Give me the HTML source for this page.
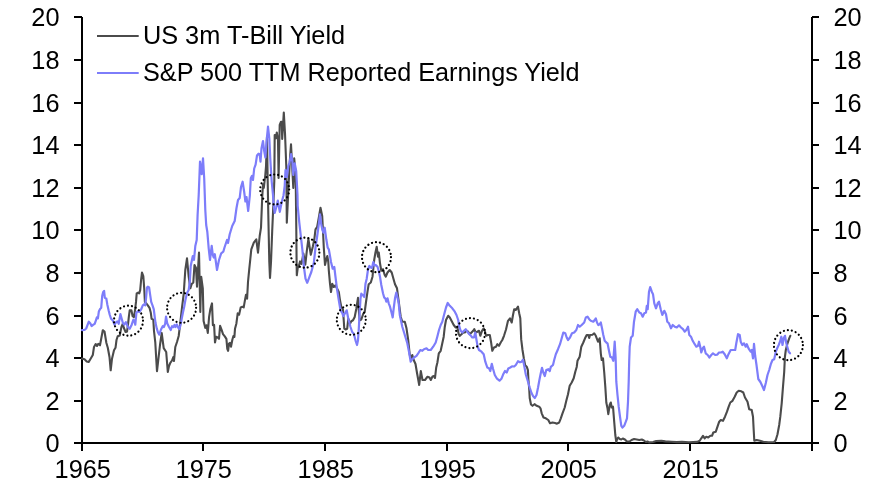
<!DOCTYPE html>
<html lang="en"><head><meta charset="utf-8"><title>US 3m T-Bill Yield vs S&amp;P 500 Earnings Yield</title>
<style>
html,body{margin:0;padding:0;background:#fff;}
body{width:877px;height:486px;overflow:hidden;}
svg{display:block;}
text{font-family:"Liberation Sans",Arial,sans-serif;font-size:25.33px;fill:#000;}
</style></head><body>
<svg width="877" height="486" viewBox="0 0 877 486">
<rect width="877" height="486" fill="#fff"/>

<path stroke="#000" stroke-width="2" fill="none" d="M82,17 V443 M812,17 V443 M74,443 H819"/>
<path stroke="#000" stroke-width="2" fill="none" d="M74,401 H82 M812,401 H819 M74,358 H82 M812,358 H819 M74,316 H82 M812,316 H819 M74,273 H82 M812,273 H819 M74,230 H82 M812,230 H819 M74,188 H82 M812,188 H819 M74,145 H82 M812,145 H819 M74,103 H82 M812,103 H819 M74,60 H82 M812,60 H819 M74,17 H82 M812,17 H819 "/>
<path stroke="#000" stroke-width="2" fill="none" d="M82,443 V451 M203,443 V451 M325,443 V451 M447,443 V451 M568,443 V451 M690,443 V451 M812,443 V451 "/>
<text x="59.5" y="451.7" text-anchor="end">0</text>
<text x="833.4" y="451.7">0</text>
<text x="59.5" y="409.7" text-anchor="end">2</text>
<text x="833.4" y="409.7">2</text>
<text x="59.5" y="366.7" text-anchor="end">4</text>
<text x="833.4" y="366.7">4</text>
<text x="59.5" y="324.7" text-anchor="end">6</text>
<text x="833.4" y="324.7">6</text>
<text x="59.5" y="281.7" text-anchor="end">8</text>
<text x="833.4" y="281.7">8</text>
<text x="59.5" y="238.7" text-anchor="end">10</text>
<text x="833.4" y="238.7">10</text>
<text x="59.5" y="196.7" text-anchor="end">12</text>
<text x="833.4" y="196.7">12</text>
<text x="59.5" y="153.7" text-anchor="end">14</text>
<text x="833.4" y="153.7">14</text>
<text x="59.5" y="111.7" text-anchor="end">16</text>
<text x="833.4" y="111.7">16</text>
<text x="59.5" y="68.7" text-anchor="end">18</text>
<text x="833.4" y="68.7">18</text>
<text x="59.5" y="25.7" text-anchor="end">20</text>
<text x="833.4" y="25.7">20</text>
<text x="82.8" y="477.7" text-anchor="middle">1965</text>
<text x="203.8" y="477.7" text-anchor="middle">1975</text>
<text x="325.8" y="477.7" text-anchor="middle">1985</text>
<text x="447.8" y="477.7" text-anchor="middle">1995</text>
<text x="568.8" y="477.7" text-anchor="middle">2005</text>
<text x="690.8" y="477.7" text-anchor="middle">2015</text>
<polyline fill="none" stroke="#4b4b4b" stroke-width="2.1" stroke-linejoin="round" stroke-linecap="round" points="82.0,358.6 84.5,359.3 86.7,361.5 88.7,362.0 91.2,357.8 92.8,355.0 94.0,347.0 95.7,344.0 97.0,346.0 98.3,343.8 100.0,345.3 102.8,330.2 104.5,331.5 106.4,343.0 107.8,347.8 109.5,357.0 110.7,370.3 112.0,358.7 114.0,350.3 115.5,347.8 116.5,340.0 117.7,336.2 119.8,335.4 121.4,327.1 122.7,323.8 123.9,328.0 125.6,332.0 127.0,331.7 128.0,324.7 128.8,317.1 129.7,310.3 131.4,310.3 132.6,316.2 133.9,317.1 135.0,310.3 136.0,301.9 136.7,293.4 138.1,292.6 139.2,293.4 140.2,290.1 141.1,280.0 142.0,272.5 143.3,276.0 144.2,288.0 144.9,301.9 146.1,303.1 147.8,305.3 149.5,307.8 150.8,312.8 151.6,318.8 153.3,319.6 154.0,331.0 155.3,342.7 156.3,360.0 157.0,371.2 158.5,358.0 160.0,345.0 161.7,333.0 163.7,348.2 166.2,352.0 167.0,362.0 167.8,372.0 169.0,366.0 170.3,362.8 172.0,360.5 173.3,357.0 174.0,361.0 175.3,347.0 177.0,342.0 178.7,336.0 180.3,322.7 182.0,307.7 183.7,294.0 185.3,270.0 187.0,258.3 188.7,276.7 190.3,288.3 191.7,284.0 193.3,282.5 194.5,265.0 196.0,268.0 197.0,286.7 199.0,252.5 200.3,312.0 201.2,276.7 202.8,288.3 203.6,321.1 205.3,327.9 206.5,325.3 207.8,332.9 209.1,316.9 210.3,309.3 212.0,303.4 212.9,325.3 214.1,324.9 215.0,342.5 216.1,336.8 217.7,337.5 219.0,338.8 220.1,325.8 221.7,330.1 223.0,334.1 224.6,336.1 226.4,338.8 227.3,348.8 228.1,350.8 229.0,343.5 230.0,342.8 231.0,346.8 232.4,339.5 233.4,336.1 234.4,336.8 235.0,328.8 236.4,323.4 237.7,313.4 239.1,314.7 240.7,307.4 242.4,306.7 243.7,307.4 245.1,299.4 246.0,294.7 247.1,298.7 248.0,282.0 249.3,268.7 250.0,262.0 251.3,249.3 253.8,242.7 256.3,239.3 258.0,252.7 259.7,236.0 261.0,227.7 262.2,197.7 263.0,184.3 263.8,188.0 265.3,175.0 266.0,166.7 267.0,137.0 267.7,181.0 268.3,214.3 269.3,262.0 270.0,278.0 271.0,262.0 272.2,231.0 273.3,206.0 274.3,181.0 274.7,135.0 275.8,138.3 276.8,132.5 278.0,140.0 278.6,178.0 279.7,125.0 281.0,121.7 281.7,121.7 282.2,139.0 283.8,112.5 285.0,133.3 286.3,166.7 286.8,222.7 288.0,197.7 288.8,181.0 290.0,158.3 291.0,144.2 292.0,163.0 293.3,188.0 294.2,158.3 295.2,170.0 295.8,187.0 296.2,220.0 296.6,262.0 296.8,275.3 297.7,268.0 298.8,266.0 300.1,261.4 301.5,263.9 303.4,253.6 305.3,264.7 306.8,251.0 308.4,238.8 309.6,247.0 310.8,254.8 312.9,246.2 314.3,239.3 315.5,229.3 317.2,226.8 318.8,217.7 320.5,207.7 322.2,216.0 323.0,231.0 323.8,247.7 325.0,265.0 326.3,259.3 327.3,256.0 328.3,262.0 328.8,270.3 330.0,283.7 331.0,292.0 332.2,283.7 333.8,287.0 335.5,285.3 337.2,288.7 338.8,292.0 340.0,300.3 341.3,307.0 343.0,309.5 344.3,328.7 345.5,329.5 347.2,328.7 348.3,318.7 350.0,323.7 351.3,321.2 353.0,320.3 354.7,317.0 356.3,308.7 358.0,297.8 358.8,310.3 359.7,320.3 361.3,319.5 363.3,313.7 364.7,312.0 366.0,302.0 367.5,291.7 368.7,284.2 370.8,282.5 372.5,276.7 374.2,260.0 375.3,253.3 376.7,246.7 378.0,256.7 378.8,252.5 380.0,263.3 381.3,270.8 383.0,269.2 384.7,275.0 385.8,276.7 387.5,272.5 389.7,270.0 391.7,272.5 393.3,278.3 395.0,284.2 397.0,288.3 398.3,298.3 399.3,306.0 400.7,316.7 402.3,321.7 404.8,321.7 406.5,328.3 408.2,340.0 409.8,355.0 411.0,359.0 412.3,355.0 413.7,360.0 415.5,364.0 417.2,374.0 419.2,385.0 420.8,371.0 422.5,380.0 425.0,380.0 427.5,376.7 429.5,377.5 430.8,380.0 432.5,376.5 434.0,376.0 435.0,378.0 436.2,367.5 437.4,362.5 438.8,353.3 440.7,350.8 442.3,343.3 443.7,336.7 444.8,326.7 446.0,320.0 448.2,315.8 449.8,317.5 451.5,320.8 453.7,325.0 455.7,327.5 457.3,326.7 458.7,334.2 459.8,335.8 461.5,334.2 463.2,332.5 464.8,332.5 466.5,330.8 468.2,331.7 469.8,334.2 471.5,332.5 473.2,330.8 474.3,329.2 475.7,332.5 477.3,331.7 479.0,330.8 480.3,335.8 482.0,330.8 483.7,328.3 484.8,330.8 486.0,335.8 487.7,335.0 489.8,335.0 491.0,341.7 492.3,350.8 494.0,347.5 496.0,346.7 497.3,344.2 499.0,345.8 500.7,342.5 502.3,340.0 504.0,335.8 506.0,329.5 508.0,320.8 510.0,318.3 511.7,322.5 513.0,315.0 514.2,309.2 515.8,310.0 518.0,306.7 519.2,313.3 520.3,318.3 521.2,339.4 522.5,350.0 523.9,358.7 525.2,365.4 526.8,366.8 527.9,370.1 528.4,379.5 529.2,388.8 529.7,398.0 531.0,404.5 532.5,405.8 534.5,404.2 536.7,405.8 539.2,406.7 540.5,408.3 541.7,413.3 543.5,417.5 545.8,418.3 548.3,420.0 550.0,423.3 552.5,422.5 555.0,423.0 557.0,423.7 559.2,422.5 560.8,418.3 562.5,413.3 564.7,407.5 566.3,400.8 568.0,394.2 569.7,385.8 571.7,382.5 573.7,378.3 575.3,371.7 576.7,367.0 577.5,360.8 579.7,356.7 581.3,346.7 583.3,342.5 585.0,338.3 586.7,335.0 588.3,335.0 589.2,338.0 590.0,335.0 592.5,334.7 594.2,333.3 595.8,335.8 598.0,341.7 599.7,338.3 600.8,353.3 601.7,360.0 603.0,358.3 604.2,372.0 605.3,386.7 606.3,402.5 607.5,408.3 608.3,414.2 609.7,405.0 610.8,402.5 611.7,407.5 613.0,406.7 614.2,421.7 615.3,435.0 616.3,442.0 617.0,439.5 618.2,437.5 619.8,439.0 621.3,439.5 622.8,438.5 624.9,439.5 626.9,441.5 629.5,441.5 631.6,440.0 634.1,439.0 636.7,439.5 639.3,440.0 641.8,439.5 643.9,440.5 645.9,442.0 647.5,441.5 649.0,442.4 653.1,442.0 656.2,441.0 661.3,440.8 665.4,441.4 671.6,441.8 676.7,442.1 681.9,441.9 689.0,442.3 697.3,441.9 699.7,440.8 701.3,438.3 703.0,435.8 704.7,438.3 706.3,436.7 708.3,437.5 710.3,435.8 712.0,435.8 713.3,432.5 715.8,431.7 717.5,426.7 719.2,421.7 720.8,420.0 723.0,420.8 725.0,416.7 727.0,411.7 728.7,406.7 730.3,402.5 732.5,400.8 734.7,396.7 736.7,392.5 738.7,390.8 741.3,391.3 743.3,392.5 745.0,397.5 747.5,401.7 749.2,409.2 751.7,410.0 753.0,416.7 753.7,430.0 754.3,440.8 756.7,440.0 760.0,440.8 763.3,441.7 768.3,442.3 774.2,442.0 775.8,440.0 777.5,434.2 779.2,425.0 780.3,416.7 781.7,403.3 783.0,386.7 784.2,372.0 784.9,357.0 785.8,350.0 787.5,343.3 789.2,338.3 790.3,335.8"/>
<polyline fill="none" stroke="#7d7dfa" stroke-width="2.2" stroke-linejoin="round" stroke-linecap="round" points="82.0,330.2 84.5,330.0 86.2,328.5 88.8,321.7 90.4,323.5 91.6,326.0 93.4,324.7 94.7,323.8 95.9,320.4 96.8,317.5 97.9,318.3 98.9,311.2 100.1,309.0 101.2,307.8 102.2,296.0 103.1,292.2 104.1,290.9 104.8,297.7 106.3,298.5 107.3,304.4 108.6,310.3 109.8,315.0 111.1,318.8 112.8,320.4 114.5,324.7 116.2,322.1 117.4,321.3 118.7,323.8 120.4,314.1 121.7,318.8 122.9,323.0 124.2,324.7 125.9,322.1 128.0,327.1 129.7,328.8 131.7,324.7 133.4,319.7 134.3,320.5 135.3,324.7 136.4,312.8 137.7,311.2 139.4,312.0 141.1,309.5 142.8,305.3 144.0,304.4 145.3,305.3 146.1,297.7 147.0,287.5 147.8,286.7 149.1,287.5 150.2,295.1 151.2,301.9 152.5,305.3 153.8,309.3 154.6,316.0 155.5,322.8 156.8,328.7 158.0,332.5 159.3,334.6 161.0,329.5 162.7,326.2 163.9,327.0 165.2,323.6 166.0,316.5 167.3,323.6 169.0,327.0 170.7,330.0 172.1,326.2 173.5,327.0 174.5,324.9 175.5,327.0 176.8,324.5 178.3,327.8 179.4,329.1 180.5,325.3 181.6,319.4 182.9,312.7 184.2,306.8 185.4,300.0 187.0,293.0 188.7,290.0 189.8,282.0 190.7,266.0 192.8,256.0 194.0,260.0 195.3,246.0 196.7,240.0 197.6,215.0 198.7,195.0 200.0,161.7 201.7,174.2 203.0,158.3 204.2,178.3 205.3,210.0 206.2,225.0 207.3,231.7 208.7,248.3 210.0,260.0 211.7,245.8 212.8,255.0 213.7,257.5 214.8,254.2 217.0,270.0 219.0,260.0 221.2,253.3 223.3,251.7 224.5,247.5 227.0,240.0 228.0,243.0 229.7,234.3 232.2,226.0 234.7,221.0 236.5,208.0 238.0,200.0 239.7,198.0 241.0,187.0 242.6,181.7 244.2,192.0 245.4,201.5 246.5,197.0 248.2,211.0 249.8,196.0 250.8,178.3 252.0,175.8 253.0,180.0 254.2,168.5 255.6,164.6 257.0,155.5 258.5,153.7 259.6,154.0 260.5,161.7 261.5,148.3 263.0,141.0 264.2,151.0 265.4,157.5 266.7,140.0 268.0,126.7 269.3,138.3 270.4,161.0 271.7,181.5 273.0,195.0 273.5,203.0 274.7,213.0 276.2,207.5 277.8,200.5 279.8,211.8 281.7,202.2 283.5,195.5 284.7,186.0 285.5,170.0 286.8,177.0 288.3,166.0 289.5,162.5 291.1,154.2 292.4,161.7 293.3,175.0 294.7,163.3 296.2,171.0 297.5,195.0 297.7,206.0 299.3,222.7 301.0,237.7 302.5,251.0 303.8,266.0 305.5,278.7 307.2,282.8 308.8,278.7 311.3,272.0 313.8,263.0 315.5,247.7 317.2,236.0 318.8,224.3 320.0,214.3 321.2,224.0 322.2,229.3 323.4,232.7 324.7,227.7 326.3,239.3 327.7,247.7 328.8,249.3 330.0,256.0 331.0,262.0 332.7,268.7 334.3,267.0 335.5,277.0 337.2,290.3 338.8,300.3 340.5,310.3 342.2,312.8 343.3,316.2 344.7,313.7 346.7,310.3 348.3,318.7 350.5,327.0 352.2,332.0 353.8,333.7 355.5,340.3 357.0,345.0 358.0,340.3 358.8,328.7 359.7,312.0 360.5,298.7 361.3,293.7 363.0,295.3 364.3,297.0 365.5,283.7 366.7,278.7 368.0,269.5 369.4,266.0 370.8,267.5 372.0,268.0 373.3,262.0 374.6,265.5 375.8,265.0 377.5,266.7 378.7,270.8 380.0,276.7 381.3,285.0 383.0,293.3 384.2,297.5 385.3,298.3 386.3,301.7 387.5,298.3 388.7,303.3 390.0,306.7 391.7,313.3 392.7,317.5 393.7,308.3 395.0,298.3 396.3,292.5 397.5,297.5 398.7,303.3 399.8,315.0 402.3,326.7 404.8,335.0 407.3,343.3 409.0,351.7 410.7,361.7 412.3,359.2 414.0,357.5 416.5,355.8 418.2,353.3 420.3,350.0 422.3,350.8 424.0,349.2 426.5,348.3 428.2,350.0 430.7,350.0 433.2,346.7 435.7,342.5 437.3,336.7 439.0,330.0 440.7,325.0 442.3,321.7 444.0,315.0 446.0,307.5 447.7,303.0 449.8,305.8 452.3,308.3 454.8,311.7 456.5,315.0 458.2,320.0 459.3,326.7 460.7,330.8 462.3,332.5 464.0,330.8 465.7,329.2 467.3,331.7 469.3,334.2 471.0,335.8 472.3,337.5 474.0,337.5 475.3,332.5 476.5,340.0 477.7,346.7 479.0,350.0 481.5,351.7 483.7,354.2 485.3,361.7 487.3,367.5 489.0,368.3 490.3,371.0 491.8,363.8 493.1,369.0 494.8,375.0 497.0,378.7 499.5,380.7 501.4,378.8 503.1,374.6 505.0,371.0 506.7,372.5 508.3,368.5 510.3,367.5 512.0,366.3 514.2,366.5 515.8,365.0 518.0,361.2 520.0,362.3 521.7,361.7 523.0,359.6 524.4,366.7 525.8,374.5 528.1,382.0 529.7,387.5 531.5,393.0 533.2,396.3 534.8,398.0 536.5,395.0 538.1,387.2 539.4,380.0 540.6,374.0 542.0,367.8 543.3,372.5 544.8,376.0 546.3,370.0 548.3,369.2 549.7,371.2 550.8,366.9 553.0,365.0 554.2,360.0 555.8,354.2 558.0,349.2 560.0,344.2 561.7,338.3 563.3,332.5 565.3,333.3 566.7,337.5 568.0,340.0 570.0,337.5 572.0,333.3 574.2,332.5 576.3,330.0 578.0,325.0 579.7,326.7 581.7,325.0 584.2,322.5 585.8,317.5 587.5,316.7 589.2,319.2 590.8,320.8 593.3,321.7 594.7,320.0 595.8,318.3 597.0,322.5 598.3,325.0 599.7,324.2 600.8,322.5 602.0,328.3 603.3,335.0 604.7,340.8 606.3,342.5 607.5,343.3 609.2,351.7 610.3,356.7 612.0,357.5 613.3,360.8 614.7,341.7 615.6,357.0 616.3,381.7 617.5,395.0 618.7,406.7 620.0,416.7 621.3,425.8 622.5,427.5 624.2,425.8 625.8,421.7 627.0,418.3 628.0,401.7 628.7,381.7 629.2,361.0 629.7,346.7 631.0,337.5 632.7,335.8 634.0,321.7 635.7,311.7 637.3,309.2 639.3,312.5 641.0,313.3 642.7,316.7 644.3,313.3 646.0,312.5 646.8,305.8 647.7,309.2 649.0,291.7 650.2,287.0 651.8,291.7 653.0,294.2 654.3,303.3 656.0,308.3 657.7,303.3 659.0,301.7 660.7,309.2 662.3,315.0 664.3,310.8 666.0,314.2 667.3,321.7 669.0,323.3 671.0,328.3 672.7,325.0 674.7,326.7 676.8,327.5 679.0,325.3 681.0,327.5 683.0,329.2 684.7,331.7 686.3,330.0 688.0,326.7 689.3,335.0 691.0,336.7 692.7,340.8 694.7,344.2 696.3,346.7 698.0,345.8 699.0,341.7 700.2,346.7 701.3,352.5 702.7,348.3 704.0,346.7 705.7,353.3 707.7,355.0 709.3,357.5 711.3,355.0 713.0,353.3 715.2,355.0 717.3,354.7 719.0,352.5 721.0,352.5 722.7,351.7 724.7,354.2 726.8,358.3 728.5,354.2 730.7,350.0 732.7,350.0 735.2,350.0 736.3,343.3 738.0,334.2 739.7,335.0 740.7,341.7 742.3,345.0 744.0,343.3 745.7,346.7 746.8,344.2 748.5,348.3 750.7,351.7 751.8,350.0 753.0,358.3 754.0,343.8 755.2,356.0 756.5,365.0 758.3,379.0 760.4,382.0 762.5,386.5 764.0,390.0 765.8,383.0 767.5,375.0 769.2,370.0 770.8,364.2 772.5,360.0 774.2,359.2 775.8,351.7 777.5,347.5 778.7,345.0 780.0,341.7 781.3,336.7 782.5,345.0 783.7,338.3 785.0,335.8 786.3,343.3 787.5,347.5 788.7,351.7 790.0,353.3"/>
<ellipse cx="128.5" cy="320.7" rx="14.5" ry="15" fill="none" stroke="#000" stroke-width="2.2" stroke-dasharray="0.01 4.02" stroke-linecap="round"/>
<ellipse cx="181.6" cy="307.8" rx="14.5" ry="15" fill="none" stroke="#000" stroke-width="2.2" stroke-dasharray="0.01 4.02" stroke-linecap="round"/>
<ellipse cx="274.7" cy="189.5" rx="14.5" ry="15" fill="none" stroke="#000" stroke-width="2.2" stroke-dasharray="0.01 4.02" stroke-linecap="round"/>
<ellipse cx="304.9" cy="252.7" rx="14.5" ry="15" fill="none" stroke="#000" stroke-width="2.2" stroke-dasharray="0.01 4.02" stroke-linecap="round"/>
<ellipse cx="351.3" cy="319.8" rx="14.5" ry="15" fill="none" stroke="#000" stroke-width="2.2" stroke-dasharray="0.01 4.02" stroke-linecap="round"/>
<ellipse cx="376.5" cy="257.2" rx="14.5" ry="15" fill="none" stroke="#000" stroke-width="2.2" stroke-dasharray="0.01 4.02" stroke-linecap="round"/>
<ellipse cx="470.5" cy="333.1" rx="14.5" ry="15" fill="none" stroke="#000" stroke-width="2.2" stroke-dasharray="0.01 4.02" stroke-linecap="round"/>
<ellipse cx="788.4" cy="345.2" rx="14.5" ry="15" fill="none" stroke="#000" stroke-width="2.2" stroke-dasharray="0.01 4.02" stroke-linecap="round"/>
<line x1="97" x2="138.7" y1="36" y2="36" stroke="#4b4b4b" stroke-width="2.1"/>
<line x1="97" x2="138.7" y1="73" y2="73" stroke="#7d7dfa" stroke-width="2.2"/>
<text x="142.9" y="44.0">US 3m T-Bill Yield</text>
<text x="143" y="81.0" textLength="436.5" lengthAdjust="spacingAndGlyphs">S&amp;P 500 TTM Reported Earnings Yield</text>
</svg></body></html>
